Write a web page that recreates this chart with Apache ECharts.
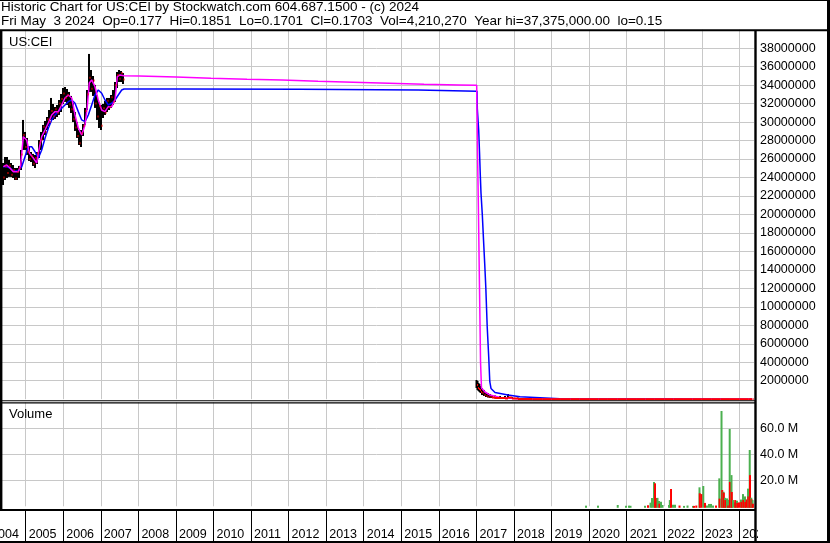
<!DOCTYPE html>
<html><head><meta charset="utf-8">
<script src="https://cdn.jsdelivr.net/npm/echarts@6/dist/echarts.min.js"></script>
<style>html,body{margin:0;padding:0;background:#fff}#c{width:830px;height:543px}</style>
</head><body><div id="c"></div>
<script>
// ---------- DATA (dates are decimal years) ----------
const priceDates = [
2004.396,2004.449,2004.502,2004.555,2004.609,2004.662,2004.715,2004.768,2004.822,2004.875,
2004.928,2004.981,2005.034,2005.088,2005.141,2005.194,2005.247,2005.301,2005.354,2005.407,
2005.460,2005.514,2005.567,2005.620,2005.673,2005.727,2005.780,2005.833,2005.886,2005.940,
2005.993,2006.046,2006.099,2006.153,2006.206,2006.259,2006.312,2006.366,2006.419,2006.472,
2006.525,2006.579,2006.632,2006.685,2006.738,2006.792,2006.845,2006.898,2006.951,2007.005,
2007.058,2007.111,2007.164,2007.218,2007.271,2007.324,2007.377,2007.431,2007.484,2007.537,
2007.590,
2017.002,2017.029,2017.055,2017.082,2017.109,2017.149,2017.202,2017.255,2017.308,2017.362,
2017.415,2017.495,2017.628,2017.761,2017.841,2017.947,2018.107,2018.293,
2018.50,2018.75,2019.00,2019.25,2019.50,2019.75,2020.00,2020.25,2020.50,2020.75,
2021.00,2021.25,2021.50,2021.75,2022.00,2022.25,2022.50,2022.75,2023.00,2023.25,
2023.50,2023.75,2024.00,2024.25,2024.34
];
const priceHigh = [
25.57e6,26.22e6,26.22e6,25.90e6,25.57e6,25.35e6,25.03e6,25.03e6,25.25e6,26.98e6,
30.23e6,28.93e6,28.28e6,27.41e6,26.76e6,26.55e6,26.44e6,26.76e6,28.06e6,28.93e6,
29.69e6,30.12e6,30.55e6,31.31e6,32.61e6,31.96e6,31.63e6,31.85e6,32.39e6,33.04e6,
33.69e6,33.80e6,33.58e6,33.26e6,32.83e6,32.07e6,31.09e6,30.01e6,29.14e6,29.14e6,
29.79e6,31.53e6,33.47e6,37.375e6,35.64e6,34.99e6,34.02e6,32.93e6,32.18e6,31.85e6,
31.96e6,32.28e6,32.61e6,32.61e6,32.93e6,33.47e6,34.34e6,35.42e6,35.64e6,35.53e6,
35.31e6,
2.08e6,1.97e6,1.75e6,1.65e6,1.43e6,1.21e6,1.00e6,0.78e6,0.67e6,0.56e6,
0.45e6,0.40e6,0.35e6,0.35e6,0.56e6,0.24e6,0.18e6,0.13e6,
12000,8000,5500,3500,2400,1400,800,300,120,70,
40,60,25,12,6,4,2.5,1.5,1.0,0.8,
0.6,0.45,0.3,0.22,0.1851
];
const priceLow = [
23.19e6,23.73e6,23.95e6,24.06e6,24.06e6,23.95e6,23.73e6,23.73e6,23.95e6,24.81e6,
26.98e6,26.98e6,26.44e6,25.79e6,25.68e6,25.25e6,25.03e6,25.46e6,26.11e6,26.98e6,
28.06e6,28.60e6,29.14e6,29.58e6,30.23e6,30.23e6,30.34e6,30.55e6,30.77e6,31.09e6,
31.96e6,32.18e6,31.85e6,31.53e6,30.98e6,30.01e6,29.04e6,28.28e6,27.52e6,27.30e6,
28.49e6,29.69e6,31.31e6,33.26e6,33.26e6,32.83e6,31.53e6,30.23e6,29.36e6,29.14e6,
30.44e6,30.77e6,31.09e6,31.31e6,31.53e6,31.85e6,32.18e6,33.69e6,34.34e6,34.34e6,
34.12e6,
1.21e6,1.00e6,0.89e6,0.78e6,0.67e6,0.45e6,0.35e6,0.24e6,0.18e6,0.13e6,
0.13e6,0.08e6,0.08e6,0.02e6,0.13e6,0.02e6,0.02e6,5000,
8000,5000,3000,2000,1200,700,300,60,40,25,
15,10,6,4,2.5,1.5,1.0,0.6,0.4,0.3,
0.2,0.2,0.16,0.15,0.1701
];
const priceClose = [
24.0e6,25.2e6,24.5e6,25.3e6,24.3e6,24.8e6,23.9e6,24.6e6,25.0e6,26.5e6,
28.6e6,27.3e6,26.8e6,26.0e6,26.3e6,25.5e6,26.1e6,26.6e6,27.8e6,28.1e6,
29.5e6,28.9e6,30.3e6,30.0e6,31.2e6,30.6e6,31.4e6,31.0e6,32.0e6,32.5e6,
33.1e6,32.6e6,32.9e6,31.9e6,31.4e6,30.3e6,29.4e6,28.5e6,27.7e6,28.8e6,
29.6e6,31.2e6,33.0e6,34.8e6,33.6e6,34.5e6,32.0e6,30.6e6,31.7e6,29.6e6,
31.5e6,31.0e6,32.3e6,31.6e6,32.7e6,32.2e6,34.0e6,35.1e6,34.7e6,35.3e6,
34.6e6,
1.54e6,1.21e6,1.10e6,1.00e6,0.78e6,0.67e6,0.45e6,0.35e6,0.24e6,0.24e6,
0.18e6,0.13e6,0.13e6,0.08e6,0.18e6,0.08e6,0.02e6,0.02e6,
9500,6000,4000,2500,1500,900,450,90,60,35,
20,15,8,5,3,2,1.2,0.8,0.5,0.4,
0.3,0.25,0.2,0.18,0.1703
];

const maShortDates = [
2004.404,2004.494,2004.582,2004.670,2004.803,2004.867,2004.936,2005.027,2005.096,2005.202,
2005.293,2005.335,2005.426,2005.514,2005.602,2005.692,2005.780,2005.868,2005.958,2006.046,
2006.134,2006.225,2006.313,2006.400,2006.491,2006.579,2006.640,2006.693,2006.757,2006.845,
2006.933,2007.023,2007.111,2007.199,2007.290,2007.378,2007.439,2007.511,2007.617,2008.017,
2009.002,2009.934,2010.892,2011.824,2012.782,2013.714,2014.673,2015.604,2016.536,2017.007,
2017.029,2017.055,2017.082,2017.109,2017.135,2017.228,2017.362,2017.628,2018.160,2019.000,
2024.340
];
const maShortValues = [
25.17e6,25.35e6,25.03e6,24.63e6,24.63e6,25.35e6,28.42e6,28.06e6,26.65e6,26.11e6,
25.57e6,26.65e6,28.42e6,29.14e6,29.90e6,30.77e6,31.13e6,31.13e6,31.85e6,32.61e6,
32.93e6,32.61e6,30.77e6,29.36e6,28.60e6,29.69e6,31.67e6,34.23e6,34.56e6,33.83e6,
32.39e6,31.31e6,31.13e6,31.67e6,31.67e6,32.39e6,34.92e6,35.10e6,35.02e6,34.99e6,
34.88e6,34.74e6,34.63e6,34.56e6,34.42e6,34.31e6,34.20e6,34.09e6,34.02e6,33.98e6,
26.90e6,19.94e6,12.07e6,4.06e6,1.21e6,0.78e6,0.45e6,0.18e6,0.02e6,3000,
0.2
];
const maLongDates = [
2004.404,2004.494,2004.582,2004.670,2004.803,2004.894,2004.981,2005.069,2005.160,2005.248,
2005.335,2005.426,2005.514,2005.602,2005.692,2005.780,2005.868,2005.958,2006.046,2006.134,
2006.225,2006.313,2006.400,2006.491,2006.579,2006.667,2006.757,2006.845,2006.933,2007.023,
2007.111,2007.199,2007.290,2007.378,2007.465,2007.556,2007.617,2009.161,2009.188,2012.303,
2012.330,2015.445,2015.471,2017.016,2017.024,2017.060,2017.082,2017.103,2017.122,2017.157,
2017.189,2017.220,2017.250,2017.287,2017.327,2017.356,2017.388,2017.495,2017.841,2018.160,
2018.693,2019.225,2024.340
];
const maLongValues = [
25.17e6,25.17e6,25.03e6,24.71e6,24.71e6,25.17e6,26.25e6,27.34e6,27.34e6,26.79e6,
26.08e6,26.98e6,28.25e6,29.33e6,30.23e6,30.77e6,31.13e6,31.49e6,31.85e6,32.21e6,
32.39e6,32.04e6,31.13e6,30.23e6,30.04e6,30.77e6,31.85e6,32.93e6,33.47e6,33.12e6,
32.39e6,31.85e6,32.04e6,32.39e6,32.93e6,33.47e6,33.58e6,33.58e6,33.55e6,33.55e6,
33.47e6,33.47e6,33.33e6,33.33e6,31.43e6,29.14e6,26.79e6,24.27e6,22.29e6,19.94e6,
17.24e6,14.71e6,12.07e6,7.85e6,4.60e6,1.89e6,1.16e6,0.73e6,0.45e6,0.27e6,
0.16e6,0.04e6,0.2
];

const volDates = [
2019.918,2020.237,2020.762,2020.982,2021.062,2021.102,2021.488,2021.568,2021.635,2021.675,
2021.728,2021.755,2021.789,2021.821,2021.861,2021.874,2021.914,2021.954,2022.127,2022.149,
2022.181,2022.234,2022.287,2022.407,2022.527,2022.620,2022.766,2022.793,2022.854,2022.939,
2022.947,2022.993,2023.040,2023.086,2023.139,2023.192,2023.245,2023.299,2023.379,2023.466,
2023.474,2023.525,2023.544,2023.578,2023.586,2023.618,2023.626,2023.671,2023.698,2023.703,
2023.743,2023.749,2023.791,2023.799,2023.831,2023.884,2023.890,2023.938,2023.946,2023.991,
2024.044,2024.052,2024.097,2024.105,2024.151,2024.159,2024.196,2024.231,2024.239,2024.276,
2024.284,2024.318,2024.326,2024.352,2024.360
];
const volValues = [
0.5e6,0.5e6,1.0e6,0.4e6,0.5e6,0.4e6,0.4e6,0.8e6,2.8e6,6.4e6,
18.7e6,17.7e6,6.4e6,6.5e6,4.1e6,2.0e6,3.5e6,1.0e6,1.0e6,4.8e6,
13.3e6,1.2e6,1.2e6,0.6e6,0.3e6,0.6e6,0.3e6,0.3e6,0.6e6,14.6e6,
10.0e6,9.4e6,15.6e6,2.6e6,0.6e6,1.8e6,1.8e6,0.6e6,0.6e6,21.5e6,
5.9e6,73.3e6,12.5e6,11.2e6,10.5e6,6.5e6,4.8e6,6.1e6,5.0e6,0.6e6,
59.5e6,18.7e6,24.0e6,11.0e6,4.8e6,3.0e6,4.8e6,4.3e6,2.6e6,3.0e6,
5.2e6,3.4e6,9.4e6,4.8e6,7.6e6,3.4e6,5.3e6,13.6e6,7.6e6,43.3e6,
24.0e6,6.6e6,5.3e6,4.8e6,2.0e6
];
const volUp = [
1,1,1,1,1,1,1,0,1,1,
1,0,0,1,1,0,1,1,1,1,
0,1,1,0,1,1,1,0,0,1,
0,0,1,0,1,1,1,1,0,1,
0,1,0,1,0,1,0,1,1,0,
1,0,1,0,1,1,0,1,0,0,
1,0,1,0,1,0,0,1,0,1,
0,1,0,1,0
];

const yearTicks = { min: 2004, max: 2024.39, interval: 1 };
const priceTicks = { min: 0, max: 40000000, interval: 2000000 };
const volTicks = { min: 0, max: 80000000, interval: 20000000 };

const headerLine1 = 'Historic Chart for US:CEI by Stockwatch.com 604.687.1500 - (c) 2024';
const headerLine2 = 'Fri May  3 2024  Op=0.177  Hi=0.1851  Lo=0.1701  Cl=0.1703  Vol=4,210,270  Year hi=37,375,000.00  lo=0.15';

// ---------- CHART ----------
const FONT = 'Arial, "Liberation Sans", sans-serif';
const GRID = '#c8c8c8';
const chart = echarts.init(document.getElementById('c'), null, { renderer: 'canvas' });

const barData = priceDates.map((d, i) => [d, priceHigh[i], priceLow[i]]);
const closeData = priceDates.map((d, i) => [d, priceClose[i], i < priceDates.length - 1 ? priceDates[i + 1] : d]);
const volData = volDates.map((d, i) => [d, volValues[i], volUp[i]]);

function renderBar(params, api) {
  const d = api.value(0);
  const a = api.coord([d, api.value(1)]);
  const b = api.coord([d, api.value(2)]);
  return { type: 'rect', shape: { x: a[0] - 1, y: a[1], width: 2, height: Math.max(b[1] - a[1], 0) },
           style: { fill: '#000' } };
}
function renderClose(params, api) {
  const p = api.coord([api.value(0), api.value(1)]);
  const n = api.coord([api.value(2), api.value(1)]);
  const gap = n[0] - p[0];
  const span = gap > 2.5 && gap < 30;
  return { type: 'rect', z2: 10, shape: { x: span ? p[0] : p[0] + 0.5, y: p[1] - 1, width: span ? gap : 1, height: 2 },
           style: { fill: '#ff0000' } };
}
function renderVol(params, api) {
  const p = api.coord([api.value(0), api.value(1)]);
  const z = api.coord([api.value(0), 0]);
  return { type: 'rect', shape: { x: p[0] - 1, y: p[1], width: 2, height: z[1] - p[1] + 1.5 },
           style: { fill: api.value(2) ? '#4cb050' : '#ff0000' } };
}

const xBase = {
  type: 'value', min: yearTicks.min, max: yearTicks.max, interval: yearTicks.interval,
  splitLine: { show: true, showMinLine: false, showMaxLine: false, lineStyle: { color: GRID, width: 1 } },
  axisLine: { show: false, onZero: false }
};

const option = {
  backgroundColor: '#fff',
  animation: false,
  grid: [
    { left: -11.86, top: 29.7, width: 765.86, height: 369.5, containLabel: false, outerBoundsMode: 'none' },
    { left: -11.86, top: 402.3, width: 765.86, height: 104, containLabel: false, outerBoundsMode: 'none' }
  ],
  xAxis: [
    Object.assign({}, xBase, { gridIndex: 0, axisTick: { show: false }, axisLabel: { show: false } }),
    Object.assign({}, xBase, {
      gridIndex: 1, position: 'bottom', offset: 3.7,
      axisTick: { show: true, length: 31, lineStyle: { color: '#000', width: 1 } },
      axisLabel: {
        show: true, margin: 18, align: 'left', padding: [0, 0, 0, 3], color: '#000',
        fontFamily: FONT, fontSize: 12.5, showMinLabel: true, showMaxLabel: false, hideOverlap: false,
        formatter: v => (Math.abs(v - Math.round(v)) < 1e-6 ? String(Math.round(v)) : '')
      }
    })
  ],
  yAxis: [
    {
      gridIndex: 0, type: 'value', position: 'right', min: priceTicks.min, max: priceTicks.max, interval: priceTicks.interval,
      axisLine: { show: false }, axisTick: { show: false },
      axisLabel: { margin: 6, color: '#000', fontFamily: FONT, fontSize: 12.5, showMinLabel: false, showMaxLabel: false,
        formatter: v => (v <= 0 || v >= priceTicks.max) ? '' : String(v) },
      splitLine: { show: true, showMinLine: false, showMaxLine: false, lineStyle: { color: GRID, width: 1 } }
    },
    {
      gridIndex: 1, type: 'value', position: 'right', min: volTicks.min, max: volTicks.max, interval: volTicks.interval,
      axisLine: { show: false }, axisTick: { show: false },
      axisLabel: { margin: 6, color: '#000', fontFamily: FONT, fontSize: 12.5, showMinLabel: false, showMaxLabel: false,
        formatter: v => (v <= 0 || v >= volTicks.max) ? '' : (v / 1e6).toFixed(1) + ' M' },
      splitLine: { show: true, showMinLine: false, showMaxLine: false, lineStyle: { color: GRID, width: 1 } }
    }
  ],
  series: [
    { type: 'custom', z: 2, xAxisIndex: 0, yAxisIndex: 0, renderItem: renderBar, data: barData, silent: true },
    { type: 'line', z: 3, xAxisIndex: 0, yAxisIndex: 0, showSymbol: false, silent: true,
      data: maLongDates.map((d, i) => [d, maLongValues[i]]), lineStyle: { color: '#0000ff', width: 1.5 } },
    { type: 'line', z: 4, xAxisIndex: 0, yAxisIndex: 0, showSymbol: false, silent: true,
      data: maShortDates.map((d, i) => [d, maShortValues[i]]), lineStyle: { color: '#ff00ff', width: 1.5 } },
    { type: 'custom', z: 6, xAxisIndex: 0, yAxisIndex: 0, renderItem: renderClose, data: closeData, silent: true },
    { type: 'custom', z: 2, xAxisIndex: 1, yAxisIndex: 1, renderItem: renderVol, data: volData, silent: true }
  ],
  graphic: [
    { type: 'rect', z: 100, shape: { x: 0, y: 0, width: 830, height: 1 }, style: { fill: '#000' } },
    { type: 'rect', z: 100, shape: { x: 0, y: 29.3, width: 830, height: 2 }, style: { fill: '#000' } },
    { type: 'rect', z: 100, shape: { x: 0, y: 30, width: 2.4, height: 481 }, style: { fill: '#000' } },
    { type: 'rect', z: 100, shape: { x: 0, y: 400.2, width: 755, height: 1.1 }, style: { fill: '#000' } },
    { type: 'rect', z: 100, shape: { x: 0, y: 402.3, width: 755, height: 1.1 }, style: { fill: '#000' } },
    { type: 'rect', z: 100, shape: { x: 0, y: 509, width: 755, height: 2 }, style: { fill: '#000' } },
    { type: 'rect', z: 100, shape: { x: 758, y: 511, width: 69, height: 30 }, style: { fill: '#fff' } },
    { type: 'rect', z: 101, shape: { x: 754.3, y: 30, width: 2.4, height: 513 }, style: { fill: '#000' } },
    { type: 'rect', z: 101, shape: { x: 827, y: 0, width: 3, height: 543 }, style: { fill: '#000' } },
    { type: 'rect', z: 101, shape: { x: 0, y: 541, width: 830, height: 2 }, style: { fill: '#000' } },
    { type: 'text', z: 102, x: 1, y: 0.5, style: { text: headerLine1, font: '13.5px ' + FONT, fill: '#000', verticalAlign: 'top' } },
    { type: 'text', z: 102, x: 1, y: 14.5, style: { text: headerLine2, font: '13.5px ' + FONT, fill: '#000', verticalAlign: 'top' } },
    { type: 'text', z: 102, x: 9, y: 35.5, style: { text: 'US:CEI', font: '13px ' + FONT, fill: '#000', verticalAlign: 'top' } },
    { type: 'text', z: 102, x: 9, y: 407.5, style: { text: 'Volume', font: '13px ' + FONT, fill: '#000', verticalAlign: 'top' } }
  ]
};
chart.setOption(option);
</script></body></html>
